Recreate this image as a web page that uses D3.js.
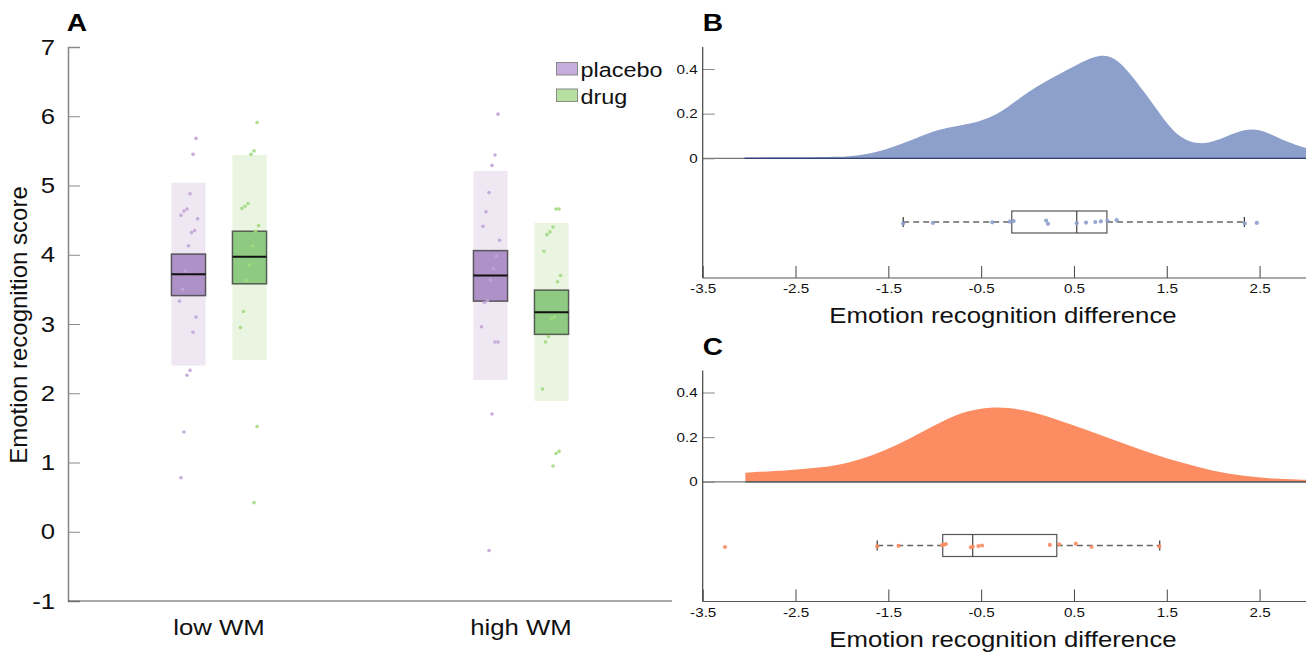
<!DOCTYPE html>
<html><head><meta charset="utf-8">
<script src="https://cdn.jsdelivr.net/npm/d3@7"></script>
<style>body{margin:0;background:#fff}svg{display:block;font-family:"Liberation Sans",Arial,sans-serif}</style>
</head><body><svg id="c" width="1314" height="652"></svg>
<script>
// ---------- Panel A data ----------
const groups = ["low WM", "high WM"];
const conditions = ["placebo", "drug"];
const yTicksA = [-1, 0, 1, 2, 3, 4, 5, 6, 7];
const placeboLow = [5.68,5.45,4.88,4.66,4.63,4.57,4.52,4.35,4.32,4.13,3.77,3.50,3.33,3.10,2.88,2.33,2.26,1.44,0.78];
const drugLow = [5.91,5.50,5.45,4.74,4.70,4.67,4.42,4.34,4.13,3.85,3.63,3.18,2.95,1.52,0.42];
const placeboHigh = [6.03,5.44,5.29,4.90,4.62,4.41,4.21,3.98,3.80,3.63,3.34,3.31,2.96,2.74,2.74,1.70,-0.27];
const drugHigh = [4.66,4.66,4.40,4.33,4.29,4.05,3.70,3.61,3.10,3.08,2.82,2.74,2.06,1.16,1.13,0.95];
// box: [q1, median, q3]; band: [low, high]
const placeboBox = [[3.41,3.72,4.01],[3.33,3.70,4.06]];
const drugBox = [[3.58,3.97,4.34],[2.85,3.17,3.49]];
const placeboBand = [[2.40,5.04],[2.19,5.21]];
const drugBand = [[2.48,5.44],[1.89,4.46]];

// ---------- Panels B / C data ----------
const xTicksBC = [-3.5,-2.5,-1.5,-0.5,0.5,1.5,2.5];
const yTicksBC = [0,0.2,0.4];
const densityB = [[-3.05,0.004],[-2.5,0.004],[-2.0,0.006],[-1.84,0.012],[-1.58,0.031],[-1.33,0.068],[-1.07,0.114],[-0.86,0.138],[-0.65,0.152],[-0.43,0.175],[-0.22,0.225],[0.03,0.306],[0.29,0.366],[0.54,0.422],[0.72,0.456],[0.82,0.462],[0.92,0.452],[1.05,0.41],[1.27,0.291],[1.48,0.165],[1.65,0.088],[1.84,0.061],[2.03,0.076],[2.24,0.118],[2.43,0.134],[2.58,0.117],[2.80,0.072],[3.0,0.046]];
const densityC = [[-3.04,0.041],[-2.56,0.052],[-2.22,0.063],[-1.92,0.085],[-1.67,0.118],[-1.41,0.163],[-1.16,0.219],[-0.90,0.276],[-0.65,0.319],[-0.39,0.335],[-0.22,0.333],[0.03,0.316],[0.29,0.283],[0.63,0.234],[0.97,0.182],[1.31,0.13],[1.65,0.086],[1.99,0.049],[2.33,0.025],[2.67,0.013],[3.0,0.009]];
const pointsB = [-1.34,-1.02,-0.38,-0.19,-0.15,0.20,0.22,0.53,0.63,0.73,0.79,0.86,0.96,2.34,2.47];
const pointsC = [-3.26,-1.62,-1.39,-0.92,-0.90,-0.88,-0.61,-0.59,-0.53,-0.49,0.24,0.34,0.52,0.69,1.42];
// [whiskerLow, q1, median, q3, whiskerHigh]
const boxB = [-1.34,-0.17,0.53,0.855,2.336];
const boxC = [-1.62,-0.914,-0.591,0.315,1.424];

const svg = d3.select("#c");
const jit = i => (((i * 37 + 11) % 13) - 6) / 6;

// ---------- Panel A ----------
const xA = d3.scaleLinear().domain([0.5, 2.5]).range([68, 672]);
const yA = d3.scaleLinear().domain([-1, 7]).range([601, 47]);
const gA = svg.append("g");
const off = 0.101, bw = 0.113;
const colors = {
  placebo: {band:"#efe8f3", box:"#ae92c7", dot:"#c1a4d8", leg:"#c5aedb"},
  drug: {band:"#eaf5e1", box:"#8fca82", dot:"#a2da80", leg:"#b5e0a0"}
};
const series = [
  {cond:"placebo", g:0, pts:placeboLow, box:placeboBox[0], band:placeboBand[0]},
  {cond:"drug", g:0, pts:drugLow, box:drugBox[0], band:drugBand[0]},
  {cond:"placebo", g:1, pts:placeboHigh, box:placeboBox[1], band:placeboBand[1]},
  {cond:"drug", g:1, pts:drugHigh, box:drugBox[1], band:drugBand[1]}
];
series.forEach(s => {
  const cx = s.g + 1 + (s.cond === "placebo" ? -off : off);
  const x0 = xA(cx - bw/2), x1 = xA(cx + bw/2);
  const c = colors[s.cond];
  gA.append("rect").attr("x", x0).attr("width", x1 - x0)
    .attr("y", yA(s.band[1])).attr("height", yA(s.band[0]) - yA(s.band[1])).attr("fill", c.band);
  gA.append("rect").attr("x", x0).attr("width", x1 - x0)
    .attr("y", yA(s.box[2])).attr("height", yA(s.box[0]) - yA(s.box[2]))
    .attr("fill", c.box).attr("stroke", "#333").attr("stroke-opacity", 0.75).attr("stroke-width", 1.5);
  gA.append("line").attr("x1", x0).attr("x2", x1).attr("y1", yA(s.box[1])).attr("y2", yA(s.box[1]))
    .attr("stroke", "#111").attr("stroke-width", 2);
  gA.selectAll(null).data(s.pts).join("circle")
    .attr("cx", (d, i) => xA(cx + jit(i) * 0.03)).attr("cy", d => yA(d)).attr("r", 1.8)
    .attr("fill", c.dot).attr("opacity", 0.9);
});
// axes A
const axA = gA.append("g").attr("transform", "translate(68,0)")
  .call(d3.axisLeft(yA).tickValues(yTicksA).tickSize(-12).tickPadding(13).tickFormat(d => String(d)));
axA.select(".domain").attr("stroke", "#8a8a8a").attr("stroke-width", 1.6);
axA.selectAll(".tick line").attr("stroke", "#8a8a8a").attr("stroke-width", 1);
axA.selectAll("text").attr("font-size", 22).attr("fill", "#111").attr("font-family", "Liberation Sans");
gA.append("line").attr("x1", 68).attr("x2", 672).attr("y1", 601).attr("y2", 601).attr("stroke", "#555").attr("stroke-width", 1.2);
gA.selectAll(null).data(groups).join("text")
  .attr("x", (d, i) => xA(i + 1)).attr("y", 635).attr("text-anchor", "middle")
  .attr("font-size", 22).attr("fill", "#111").text(d => d);
gA.append("text").attr("class", "nostretch")
  .attr("transform", "translate(27,325) rotate(-90)").attr("text-anchor", "middle")
  .attr("font-size", 24).attr("fill", "#111").text("Emotion recognition score");
gA.append("text").attr("x", 77).attr("y", 31).attr("text-anchor", "middle")
  .attr("font-size", 24).attr("font-weight", "bold").text("A");
// legend
conditions.forEach((c, i) => {
  const y = 62.5 + i * 26.5;
  gA.append("rect").attr("x", 556.5).attr("y", y).attr("width", 21).attr("height", 12.5)
    .attr("fill", colors[c].leg).attr("stroke", "#8a8a8a").attr("stroke-width", 1);
  gA.append("text").attr("x", 580.5).attr("y", y + 14.5).attr("font-size", 20).attr("fill", "#111").text(c);
});

// ---------- Panels B & C ----------
function raincloud(dy, density, fillC, baseC, pts, box, label) {
  const g = svg.append("g").attr("transform", `translate(0,${dy})`);
  const x = d3.scaleLinear().domain([-3.5, 3]).range([702.7, 1306]);
  const y = d3.scaleLinear().domain([0, 0.5]).range([158.3, 46.7]);
  const yBox = 222, axisY = 278;
  const area = d3.area().x(d => x(d[0])).y0(y(0)).y1(d => y(d[1])).curve(d3.curveBasis);
  g.append("path").datum(density).attr("d", area).attr("fill", fillC);
  g.append("line").attr("x1", 702.7).attr("x2", 1306).attr("y1", y(0)).attr("y2", y(0)).attr("stroke", "#777").attr("stroke-width", 1.2);
  g.append("line").attr("x1", x(density[0][0])).attr("x2", 1306).attr("y1", y(0)).attr("y2", y(0)).attr("stroke", baseC).attr("stroke-width", 1.2);
  // y axis
  const ay = g.append("g").attr("transform", "translate(702.7,0)")
    .call(d3.axisLeft(y).tickValues(yTicksBC).tickSize(-12).tickPadding(5).tickFormat(d => d === 0 ? "0" : d.toFixed(1)));
  ay.select(".domain").remove();
  ay.selectAll(".tick line").attr("stroke", "#888");
  ay.selectAll("text").attr("font-size", 13).attr("fill", "#111");
  g.append("line").attr("x1", 702.7).attr("x2", 702.7).attr("y1", 47).attr("y2", axisY).attr("stroke", "#444").attr("stroke-width", 1.2);
  // x axis
  const ax = g.append("g").attr("transform", `translate(0,${axisY})`)
    .call(d3.axisBottom(x).tickValues(xTicksBC).tickSize(-12).tickPadding(6).tickFormat(d => d.toFixed(1)));
  ax.select(".domain").remove();
  ax.selectAll(".tick line").attr("stroke", "#444");
  ax.selectAll("text").attr("font-size", 13).attr("fill", "#111");
  g.append("line").attr("x1", 702.7).attr("x2", 1306).attr("y1", axisY).attr("y2", axisY).attr("stroke", "#555").attr("stroke-width", 1.2);
  g.append("text").attr("x", 1003).attr("y", 323).attr("text-anchor", "middle").attr("font-size", 22).attr("fill", "#111")
    .text("Emotion recognition difference");
  g.append("text").attr("x", 713).attr("y", 31).attr("text-anchor", "middle").attr("font-size", 24).attr("font-weight", "bold").text(label);
  // boxplot
  const [wl, q1, med, q3, wh] = box;
  g.append("line").attr("x1", x(wl)).attr("x2", x(q1)).attr("y1", yBox).attr("y2", yBox).attr("stroke", "#666").attr("stroke-width", 1.3).attr("stroke-dasharray", "6,4");
  g.append("line").attr("x1", x(q3)).attr("x2", x(wh)).attr("y1", yBox).attr("y2", yBox).attr("stroke", "#666").attr("stroke-width", 1.3).attr("stroke-dasharray", "6,4");
  [wl, wh].forEach(v => g.append("line").attr("x1", x(v)).attr("x2", x(v)).attr("y1", yBox - 5).attr("y2", yBox + 5).attr("stroke", "#333").attr("stroke-width", 1.2));
  g.append("rect").attr("x", x(q1)).attr("width", x(q3) - x(q1)).attr("y", yBox - 11).attr("height", 22)
    .attr("fill", "none").attr("stroke", "#555").attr("stroke-width", 1.2);
  g.append("line").attr("x1", x(med)).attr("x2", x(med)).attr("y1", yBox - 11).attr("y2", yBox + 11).attr("stroke", "#444").attr("stroke-width", 1.2);
  g.selectAll(null).data(pts).join("circle")
    .attr("cx", d => x(d)).attr("cy", (d, i) => yBox + jit(i) * 1.8).attr("r", 2.1)
    .attr("fill", fillC).attr("opacity", 0.9);
}
raincloud(0, densityB, "#8da0cb", "#34427a", pointsB, boxB, "B");
raincloud(323.5, densityC, "#fc8d62", "#555", pointsC, boxC, "C");

// horizontal stretch of glyphs to match the reference typography
svg.selectAll("text").each(function () {
  if (this.classList.contains("nostretch")) return;
  const L = this.getComputedTextLength();
  this.setAttribute("textLength", L * 1.17);
  this.setAttribute("lengthAdjust", "spacingAndGlyphs");
});
</script></body></html>
